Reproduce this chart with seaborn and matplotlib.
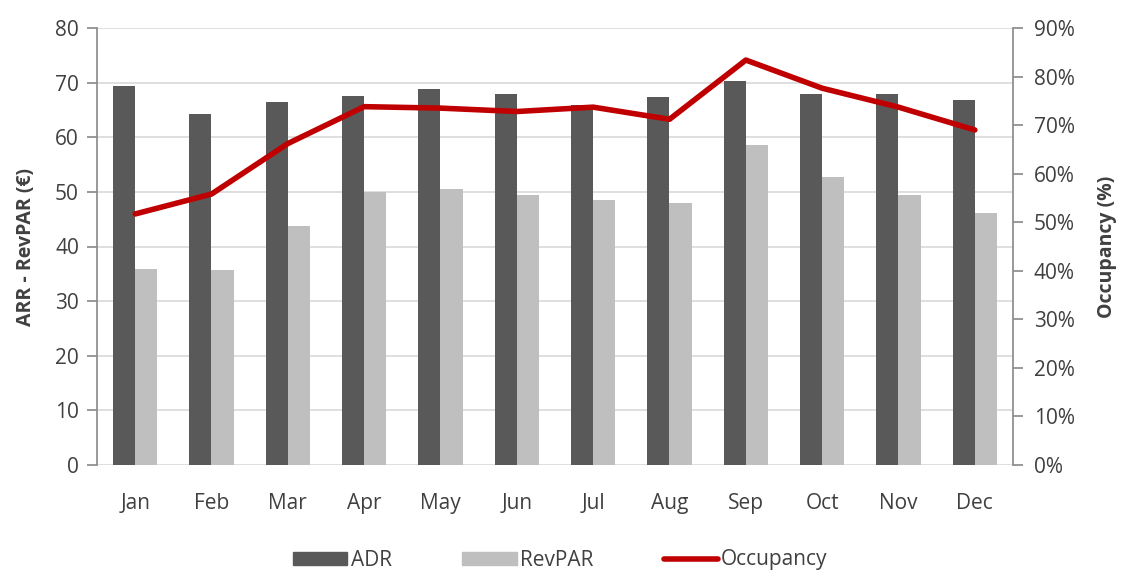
import numpy as np
import pandas as pd
import matplotlib
matplotlib.use("Agg")
import matplotlib.pyplot as plt
import seaborn as sns
from matplotlib.patches import Patch
from matplotlib.lines import Line2D
from matplotlib.ticker import PercentFormatter

# Data
months = ["Jan", "Feb", "Mar", "Apr", "May", "Jun",
          "Jul", "Aug", "Sep", "Oct", "Nov", "Dec"]
adr = [69.3, 64.2, 66.5, 67.6, 68.9, 68.0, 65.9, 67.4, 70.3, 67.9, 67.9, 66.9]
revpar = [35.8, 35.7, 43.8, 49.9, 50.5, 49.5, 48.5, 48.0, 58.5, 52.7, 49.5, 46.1]
occupancy = [51.7, 55.8, 66.2, 73.8, 73.5, 72.8, 73.7, 71.2, 83.4, 77.6, 73.7, 69.0]

text_col = "#404040"
sns.set_theme(style="white")
plt.rcParams["font.family"] = ["Open Sans", "DejaVu Sans"]

df = pd.DataFrame({"Month": months * 2,
                   "Value": adr + revpar,
                   "Series": ["ADR"] * 12 + ["RevPAR"] * 12})
occ_df = pd.DataFrame({"Month": months, "Occupancy": occupancy})

fig = plt.figure(figsize=(11.21, 5.72), dpi=100)
ax = fig.add_axes([97 / 1121, 1 - 465 / 572, (1013 - 97) / 1121, (465 - 28) / 572])

sns.barplot(data=df, x="Month", y="Value", hue="Series", order=months,
            palette={"ADR": "#595959", "RevPAR": "#bfbfbf"},
            width=0.58, gap=0, saturation=1, legend=False, linewidth=0, ax=ax)

ax.set_ylim(0, 80)
ax.set_yticks(range(0, 81, 10))
ax.set_xlim(-0.5, 11.5)
ax.grid(axis="y", color="#d9d9d9", linewidth=1.2)
ax.set_axisbelow(True)
ax.set_xlabel("")
ax.set_ylabel("ARR - RevPAR (€)", fontsize=14, fontweight="bold", color=text_col,
              labelpad=14)
for s in ["top", "right", "bottom"]:
    ax.spines[s].set_visible(False)
ax.spines["left"].set_color("#8c8c8c")
ax.tick_params(axis="y", direction="out", length=7, color="#8c8c8c",
               labelsize=15, labelcolor=text_col, left=True, pad=6)
ax.tick_params(axis="x", length=0, labelsize=15, labelcolor=text_col, pad=20)

ax2 = ax.twinx()
sns.lineplot(data=occ_df, x="Month", y="Occupancy", sort=False,
             color="#c00000", linewidth=4, ax=ax2)
ax2.set_ylim(0, 90)
ax2.set_yticks(range(0, 91, 10))
ax2.yaxis.set_major_formatter(PercentFormatter(decimals=0))
ax2.set_ylabel("Occupancy (%)", fontsize=14, fontweight="bold", color=text_col,
               labelpad=16)
for s in ["top", "left", "bottom"]:
    ax2.spines[s].set_visible(False)
ax2.spines["right"].set_color("#8c8c8c")
ax2.tick_params(axis="y", direction="out", length=7, color="#8c8c8c",
                labelsize=15, labelcolor=text_col, right=True, pad=8)
ax2.set_xlim(-0.5, 11.5)

handles = [Patch(color="#595959", label="ADR"),
           Patch(color="#bfbfbf", label="RevPAR"),
           Line2D([0], [0], color="#c00000", linewidth=4, label="Occupancy")]
leg = fig.legend(handles=handles, loc="center", bbox_to_anchor=(0.5, 1 - 560 / 572),
                 ncol=3, frameon=False, fontsize=15, handlelength=2.6,
                 handleheight=0.6, handletextpad=0.15, columnspacing=3.4)
for t in leg.get_texts():
    t.set_color(text_col)

fig.savefig("out.png", dpi=100)
